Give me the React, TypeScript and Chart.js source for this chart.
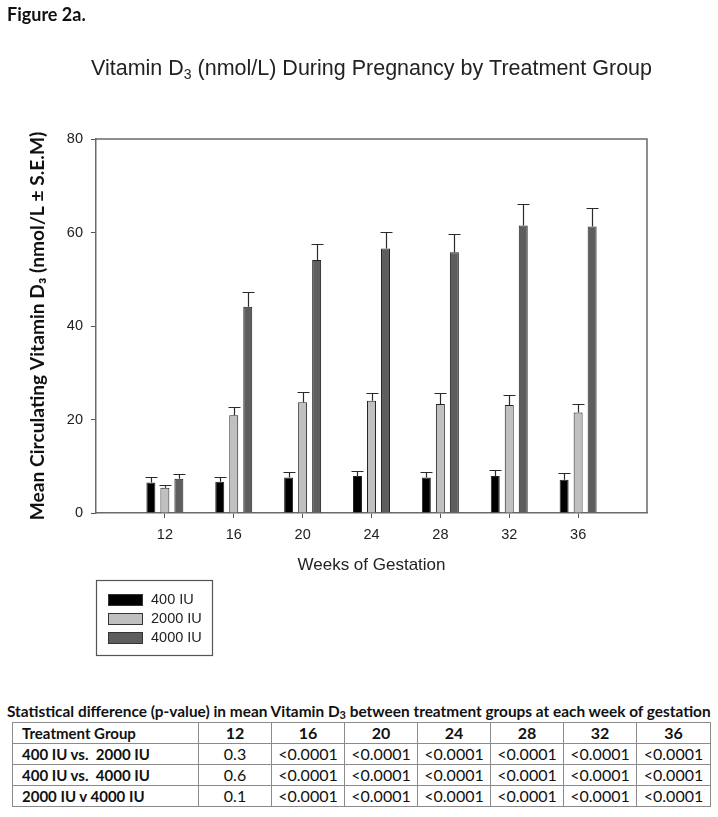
import React, { useEffect, useRef } from 'react';
import { Chart, registerables } from 'chart.js';

Chart.register(...registerables);

// ---- data ----
const weeks = [12, 16, 20, 24, 28, 32, 36];
const seriesLabels = ['400 IU', '2000 IU', '4000 IU'];
const mean400 = [6.5, 6.7, 7.6, 7.9, 7.6, 7.9, 7.1];
const sem400 = [1.1, 1.0, 1.1, 1.1, 1.1, 1.3, 1.4];
const mean2000 = [5.4, 20.9, 23.7, 24.0, 23.3, 23.1, 21.5];
const sem2000 = [0.6, 1.8, 2.2, 1.7, 2.3, 2.1, 1.8];
const mean4000 = [7.3, 44.1, 54.1, 56.6, 55.8, 61.5, 61.3];
const sem4000 = [1.0, 3.2, 3.4, 3.6, 3.8, 4.6, 4.0];
const seriesColors = ['#000000', '#c0c0c0', '#5e5e5e'];

const figureLabel = 'Figure 2a.';
const titleMain = 'Vitamin D';
const titleSub = '3';
const titleRest = ' (nmol/L) During Pregnancy by Treatment Group';
const yTitle = 'Mean Circulating Vitamin D\u2083 (nmol/L \u00B1 S.E.M)';
const xTitle = 'Weeks of Gestation';

const tableCaption = 'Statistical difference (p-value) in mean Vitamin D';
const tableCaptionRest = ' between treatment groups at each week of gestation';
const tableHeader = ['Treatment Group', '12', '16', '20', '24', '28', '32', '36'];
const row1 = ['400 IU vs.  2000 IU', '0.3', '<0.0001', '<0.0001', '<0.0001', '<0.0001', '<0.0001', '<0.0001'];
const row2 = ['400 IU vs.  4000 IU', '0.6', '<0.0001', '<0.0001', '<0.0001', '<0.0001', '<0.0001', '<0.0001'];
const row3 = ['2000 IU v 4000 IU', '0.1', '<0.0001', '<0.0001', '<0.0001', '<0.0001', '<0.0001', '<0.0001'];
const tableRows = [row1, row2, row3];

const SANS = '"Liberation Sans", Arial, sans-serif';
const CAL = 'Lato, "Open Sans", sans-serif';

const errorBarPlugin = {
  id: 'errorBars',
  afterDatasetsDraw(chart: any) {
    const ctx = chart.ctx;
    const yScale = chart.scales.y;
    ctx.save();
    ctx.strokeStyle = '#2a2a2a';
    ctx.lineWidth = 1.2;
    chart.data.datasets.forEach((ds: any, di: number) => {
      const meta = chart.getDatasetMeta(di);
      meta.data.forEach((bar: any, i: number) => {
        const v = ds.data[i].y;
        const top = yScale.getPixelForValue(v + ds.errors[i]);
        const x = Math.round(bar.x) + 0.5;
        const t = Math.round(top) + 0.5;
        ctx.beginPath();
        ctx.moveTo(x, bar.y);
        ctx.lineTo(x, t);
        ctx.moveTo(x - 6, t);
        ctx.lineTo(x + 6, t);
        ctx.stroke();
      });
    });
    ctx.restore();
  },
};

const decorPlugin = {
  id: 'decor',
  afterDraw(chart: any) {
    const ctx = chart.ctx;
    const a = chart.chartArea;
    ctx.save();
    // frame top & right
    ctx.strokeStyle = '#6a6a6a';
    ctx.lineWidth = 1.5;
    ctx.beginPath();
    ctx.moveTo(a.left, a.top);
    ctx.lineTo(a.right, a.top);
    ctx.lineTo(a.right, a.bottom);
    ctx.stroke();

    // figure label
    ctx.fillStyle = '#111';
    ctx.font = `bold 18px ${CAL}`;
    ctx.textBaseline = 'middle';
    ctx.textAlign = 'left';
    ctx.fillText(figureLabel, 7, 15);

    // title with subscript
    ctx.fillStyle = '#222';
    const f1 = `21.5px ${SANS}`;
    const f2 = `14px ${SANS}`;
    ctx.font = f1;
    const w1 = ctx.measureText(titleMain).width;
    const w3 = ctx.measureText(titleRest).width;
    ctx.font = f2;
    const w2 = ctx.measureText(titleSub).width;
    const total = w1 + w2 + w3;
    let x = (a.left + a.right) / 2 - total / 2;
    const y = 68;
    ctx.textBaseline = 'alphabetic';
    ctx.font = f1;
    ctx.fillText(titleMain, x, y + 7);
    x += w1;
    ctx.font = f2;
    ctx.fillText(titleSub, x, y + 11);
    x += w2;
    ctx.font = f1;
    ctx.fillText(titleRest, x, y + 7);

    // legend
    ctx.strokeStyle = '#555';
    ctx.lineWidth = 1.2;
    ctx.strokeRect(96.5, 580.5, 116, 75);
    const tops = [594, 613, 632];
    chart.data.datasets.forEach((ds: any, i: number) => {
      ctx.fillStyle = ds.backgroundColor;
      ctx.fillRect(108, tops[i], 34, 11);
      ctx.strokeStyle = '#333';
      ctx.lineWidth = 1;
      ctx.strokeRect(108.5, tops[i] + 0.5, 34, 11);
      ctx.fillStyle = '#222';
      ctx.font = `14.5px ${SANS}`;
      ctx.textBaseline = 'middle';
      ctx.fillText(ds.label, 151, tops[i] + 6);
    });
    ctx.restore();
  },
};

function makeData(means: number[]) {
  return weeks.map((w, i) => ({ x: w, y: means[i] }));
}

export default function App() {
  const ref = useRef<HTMLCanvasElement | null>(null);

  useEffect(() => {
    if (!ref.current) return;
    const means = [mean400, mean2000, mean4000];
    const sems = [sem400, sem2000, sem4000];
    const chart = new Chart(ref.current, {
      type: 'bar',
      data: {
        datasets: seriesLabels.map((label, i) => ({
          label,
          data: makeData(means[i]),
          errors: sems[i],
          backgroundColor: seriesColors[i],
          borderColor: '#222',
          borderWidth: 1,
          categoryPercentage: 0.61,
          barPercentage: 0.64,
        })) as any,
      },
      options: {
        responsive: false,
        animation: false,
        devicePixelRatio: 1,
        layout: { padding: { left: 22, top: 139, right: 71, bottom: 120 } },
        plugins: {
          legend: { display: false },
          title: { display: false },
          tooltip: { enabled: false },
        },
        scales: {
          x: {
            type: 'linear',
            min: 8,
            max: 40,
            offset: false,
            afterBuildTicks: (scale: any) => {
              scale.ticks = weeks.map((v) => ({ value: v }));
            },
            afterFit: (scale: any) => {
              scale.height = 67;
            },
            ticks: {
              autoSkip: false,
              maxRotation: 0,
              padding: 8,
              color: '#222',
              font: { family: SANS, size: 14.5 },
              callback: (v: any) => String(v),
            },
            grid: {
              display: true,
              drawOnChartArea: false,
              drawTicks: true,
              tickLength: 5,
              color: '#555',
              offset: false,
            },
            border: { display: true, color: '#6a6a6a', width: 1.5 },
            title: {
              display: true,
              text: xTitle,
              color: '#222',
              font: { family: SANS, size: 17 },
              padding: { top: 4, bottom: 4 },
            },
          },
          y: {
            min: 0,
            max: 80,
            afterFit: (scale: any) => {
              scale.width = 74;
            },
            ticks: {
              stepSize: 20,
              padding: 8,
              color: '#222',
              font: { family: SANS, size: 14.5 },
            },
            grid: {
              display: true,
              drawOnChartArea: false,
              drawTicks: true,
              tickLength: 5,
              color: '#555',
            },
            border: { display: true, color: '#6a6a6a', width: 1.5 },
            title: {
              display: true,
              text: yTitle,
              color: '#111',
              font: { family: CAL, size: 19.2, weight: 'bold' },
              padding: { top: 4, bottom: 4 },
            },
          },
        },
      } as any,
      plugins: [errorBarPlugin, decorPlugin],
    });
    return () => chart.destroy();
  }, []);

  const colW = [186, 73, 73, 73, 73, 73, 73, 74];
  const cell: React.CSSProperties = {
    border: '1px solid #8a8a8a',
    height: 20,
    padding: 0,
    fontFamily: CAL,
    fontSize: 15,
    color: '#111',
    textAlign: 'center',
    whiteSpace: 'pre',
    lineHeight: '20px',
  };

  return (
    <div style={{ position: 'absolute', left: 0, top: 0, width: 718, height: 817, background: '#fff' }}>
      <canvas ref={ref} width={718} height={700} style={{ display: 'block', position: 'absolute', left: 0, top: 0 }} />
      <div
        style={{
          position: 'absolute',
          left: 7,
          top: 701,
          width: 711,
          fontFamily: CAL,
          fontWeight: 'bold',
          fontSize: 15.4,
          color: '#111',
          whiteSpace: 'nowrap',
          lineHeight: '20px',
        }}
      >
        {tableCaption}
        <sub style={{ fontSize: 11, verticalAlign: '-2px' }}>3</sub>
        {tableCaptionRest}
      </div>
      <table
        style={{
          position: 'absolute',
          left: 12,
          top: 722,
          borderCollapse: 'collapse',
          tableLayout: 'fixed',
          width: 698,
        }}
      >
        <colgroup>
          {colW.map((w, i) => (
            <col key={i} style={{ width: w }} />
          ))}
        </colgroup>
        <tbody>
          <tr>
            {tableHeader.map((h, i) => (
              <td
                key={i}
                style={{ ...cell, fontWeight: 'bold', fontSize: i === 0 ? 15 : 16, textAlign: i === 0 ? 'left' : 'center', paddingLeft: i === 0 ? 9 : 0 }}
              >
                {h}
              </td>
            ))}
          </tr>
          {tableRows.map((r, ri) => (
            <tr key={ri}>
              {r.map((c, i) => (
                <td
                  key={i}
                  style={{ ...cell, fontWeight: i === 0 ? 'bold' : 'normal', fontSize: i === 0 ? 15 : 16, textAlign: i === 0 ? 'left' : 'center', paddingLeft: i === 0 ? 9 : 0 }}
                >
                  {c}
                </td>
              ))}
            </tr>
          ))}
        </tbody>
      </table>
    </div>
  );
}
